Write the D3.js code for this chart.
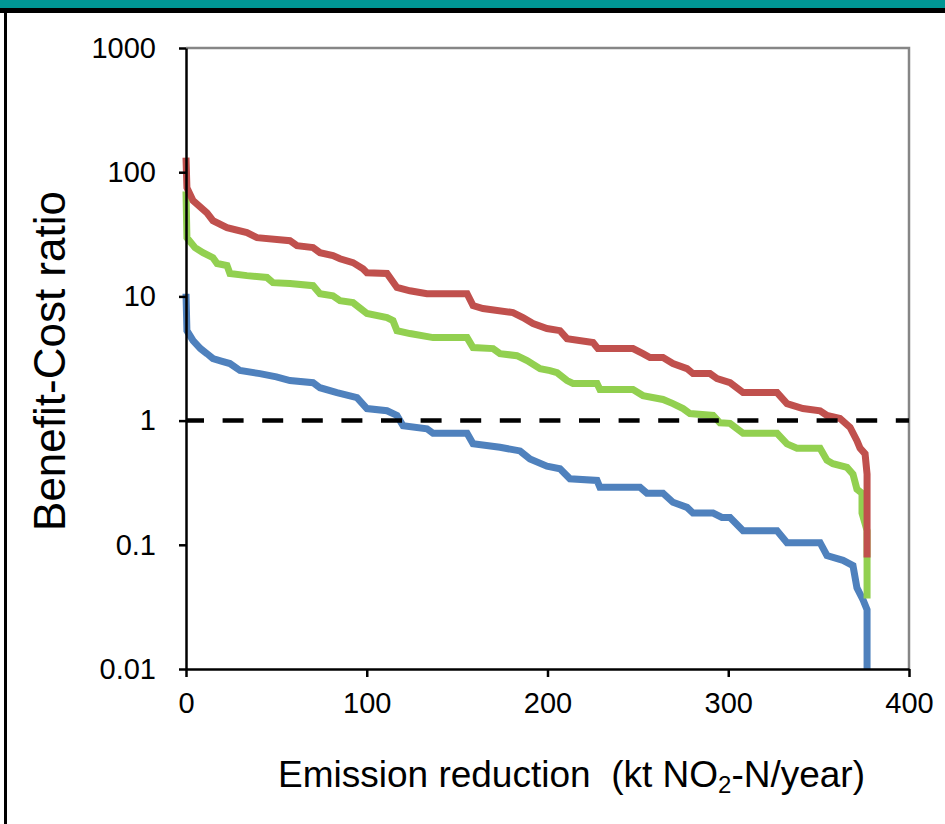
<!DOCTYPE html>
<html>
<head>
<meta charset="utf-8">
<script src="https://cdn.jsdelivr.net/npm/d3@7"></script>
<style>
  html, body { margin: 0; padding: 0; background: #fff; }
  svg { display: block; }
  text { font-family: "Liberation Sans", Arial, sans-serif; fill: #000; }
</style>
</head>
<body>
<svg id="chart" width="945" height="824"></svg>
<script>
// ---------- data ----------
const xTicks = [0, 100, 200, 300, 400];
const xTickLabels = ["0", "100", "200", "300", "400"];
const yTicks = [0.01, 0.1, 1, 10, 100, 1000];
const yTickLabels = ["0.01", "0.1", "1", "10", "100", "1000"];
const referenceRatio = 1;

const blueX = [0, 0.5, 3.9, 8, 11.6, 14.9, 20, 24.3, 29.9, 40.9, 50, 57.5, 70.3, 74.1, 83.5, 94.6, 100.1, 111.2, 116.7, 120.1, 133.3, 136.7, 155.5, 158.8, 173.7, 184.8, 190.3, 199.7, 206.9, 212.4, 227.4, 229.0, 251.2, 255.0, 263.9, 269.4, 277.2, 280.5, 291.6, 296.5, 301.0, 308.2, 327.0, 332.5, 350.8, 354.6, 363.5, 369.0, 371.2, 374.6, 376.8, 376.8];
const blueY = [10.5, 5.3, 4.4, 3.8, 3.46, 3.16, 3.0, 2.88, 2.53, 2.39, 2.25, 2.1, 2.02, 1.84, 1.68, 1.53, 1.25, 1.20, 1.10, 0.91, 0.86, 0.79, 0.79, 0.65, 0.61, 0.57, 0.49, 0.43, 0.41, 0.34, 0.33, 0.29, 0.29, 0.26, 0.26, 0.22, 0.20, 0.18, 0.18, 0.166, 0.166, 0.13, 0.13, 0.104, 0.104, 0.082, 0.075, 0.068, 0.045, 0.036, 0.030, 0.01];

const greenX = [0, 0.5, 5.0, 9.4, 14.9, 17.2, 22.7, 24.3, 33.7, 44.8, 48.1, 57.5, 70.3, 74.1, 81.3, 85.2, 92.4, 100.1, 111.2, 114.5, 116.7, 123.9, 136.7, 155.5, 158.8, 169.9, 173.7, 183.1, 188.7, 195.9, 201.4, 205.3, 210.8, 214.1, 227.4, 229.0, 247.3, 252.8, 263.9, 269.4, 275.0, 278.8, 291.6, 295.4, 301.0, 308.2, 327.0, 332.5, 338.0, 350.8, 354.6, 357.9, 365.7, 369.0, 371.2, 374.0, 374.0, 376.8, 376.8];
const greenY = [70, 29.7, 24.7, 22.5, 20.5, 18.4, 17.7, 15.3, 14.7, 14.2, 12.9, 12.7, 12.2, 10.5, 10.1, 9.25, 8.91, 7.28, 6.75, 6.38, 5.30, 5.02, 4.66, 4.66, 3.87, 3.80, 3.46, 3.33, 3.04, 2.62, 2.53, 2.43, 2.10, 1.99, 1.99, 1.78, 1.78, 1.59, 1.48, 1.37, 1.25, 1.14, 1.10, 0.96, 0.95, 0.79, 0.79, 0.65, 0.60, 0.60, 0.48, 0.45, 0.42, 0.37, 0.28, 0.26, 0.18, 0.13, 0.037];

const redX = [0, 0.5, 3.9, 11.6, 14.9, 22.7, 33.7, 39.3, 57.5, 61.4, 70.3, 74.1, 81.3, 85.2, 92.4, 97.9, 100.1, 111.2, 116.7, 123.9, 133.3, 155.5, 158.8, 164.3, 180.9, 186.4, 192.0, 199.7, 206.9, 210.8, 225.2, 227.9, 247.3, 252.8, 256.7, 263.9, 269.4, 277.2, 280.5, 289.9, 293.8, 301.0, 308.2, 327.0, 332.5, 341.3, 350.8, 354.6, 361.8, 367.4, 371.2, 372.9, 375.7, 376.8, 376.8];
const redY = [131, 75, 59, 47, 40.7, 35.8, 32.6, 29.7, 28.1, 25.6, 24.7, 22.5, 21.3, 20.1, 18.7, 16.7, 15.5, 15.3, 11.8, 11.1, 10.5, 10.5, 8.43, 7.98, 7.41, 6.75, 6.04, 5.51, 5.3, 4.57, 4.25, 3.80, 3.80, 3.46, 3.22, 3.22, 2.88, 2.62, 2.39, 2.39, 2.18, 2.02, 1.68, 1.68, 1.37, 1.25, 1.20, 1.10, 1.04, 0.88, 0.69, 0.60, 0.54, 0.37, 0.079];

const seriesColors = ["#4F81BD", "#92D050", "#C0504D"];

// ---------- layout ----------
const svg = d3.select("#chart");
const W = 945, H = 824;
const pLeft = 186, pRight = 909, pTop = 48, pBottom = 669;

// frame
svg.append("rect").attr("x", 0).attr("y", 0).attr("width", W).attr("height", H).attr("fill", "#fff");
svg.append("rect").attr("x", 0).attr("y", 0).attr("width", W).attr("height", 8).attr("fill", "#009694");
svg.append("rect").attr("x", 0).attr("y", 8).attr("width", W).attr("height", 5).attr("fill", "#000");
svg.append("rect").attr("x", 4).attr("y", 8).attr("width", 3).attr("height", H - 8).attr("fill", "#000");

const x = d3.scaleLinear().domain([0, 400]).range([pLeft, pRight]);
const y = d3.scaleLog().domain([0.01, 1000]).range([pBottom, pTop]);

// plot area border (top & right)
svg.append("path")
  .attr("d", `M${pLeft},${pTop}H${pRight}V${pBottom}`)
  .attr("fill", "none").attr("stroke", "#868686").attr("stroke-width", 2.5);

// series
const line = d3.line().x(d => x(d[0])).y(d => y(d[1]));
const series = [
  d3.zip(blueX, blueY),
  d3.zip(greenX, greenY),
  d3.zip(redX, redY)
];
series.forEach((s, i) => {
  svg.append("path").datum(s)
    .attr("d", line)
    .attr("fill", "none")
    .attr("stroke", seriesColors[i])
    .attr("stroke-width", 7)
    .attr("stroke-linejoin", "miter")
    .attr("stroke-linecap", "butt");
});

// reference line at ratio = 1
svg.append("line")
  .attr("x1", x(0)).attr("x2", x(400))
  .attr("y1", y(referenceRatio)).attr("y2", y(referenceRatio))
  .attr("stroke", "#000").attr("stroke-width", 4.5)
  .attr("stroke-dasharray", "21 18.6").attr("stroke-dashoffset", 3);

// axes
const yAxis = d3.axisLeft(y).tickValues(yTicks)
  .tickFormat((d, i) => yTickLabels[i])
  .tickSize(7).tickSizeOuter(0).tickPadding(23);
const gy = svg.append("g").attr("transform", `translate(${pLeft},0)`).call(yAxis);
gy.select(".domain").attr("stroke", "#000").attr("stroke-width", 2.5);
gy.selectAll(".tick line").attr("stroke", "#000").attr("stroke-width", 2.5);
gy.selectAll(".tick text").attr("font-size", 29).attr("font-family", "Liberation Sans, Arial, sans-serif").attr("fill", "#000");

const xAxis = d3.axisBottom(x).tickValues(xTicks)
  .tickFormat((d, i) => xTickLabels[i])
  .tickSize(8).tickSizeOuter(0).tickPadding(15);
const gx = svg.append("g").attr("transform", `translate(0,${pBottom})`).call(xAxis);
gx.select(".domain").attr("stroke", "#000").attr("stroke-width", 2.5);
gx.selectAll(".tick line").attr("stroke", "#000").attr("stroke-width", 2.5);
gx.selectAll(".tick text").attr("font-size", 29).attr("font-family", "Liberation Sans, Arial, sans-serif").attr("fill", "#000");

// titles
svg.append("text")
  .attr("transform", "translate(65,361) rotate(-90)")
  .attr("text-anchor", "middle")
  .attr("font-size", 44)
  .text("Benefit-Cost ratio");

const xt = svg.append("text")
  .attr("x", 278).attr("y", 787)
  .attr("font-size", 37)
  .style("white-space", "pre");
xt.append("tspan").text("Emission reduction  (kt NO");
xt.append("tspan").attr("font-size", 24).attr("dy", 6).text("2");
xt.append("tspan").attr("dy", -6).text("-N/year)");
</script>
</body>
</html>
